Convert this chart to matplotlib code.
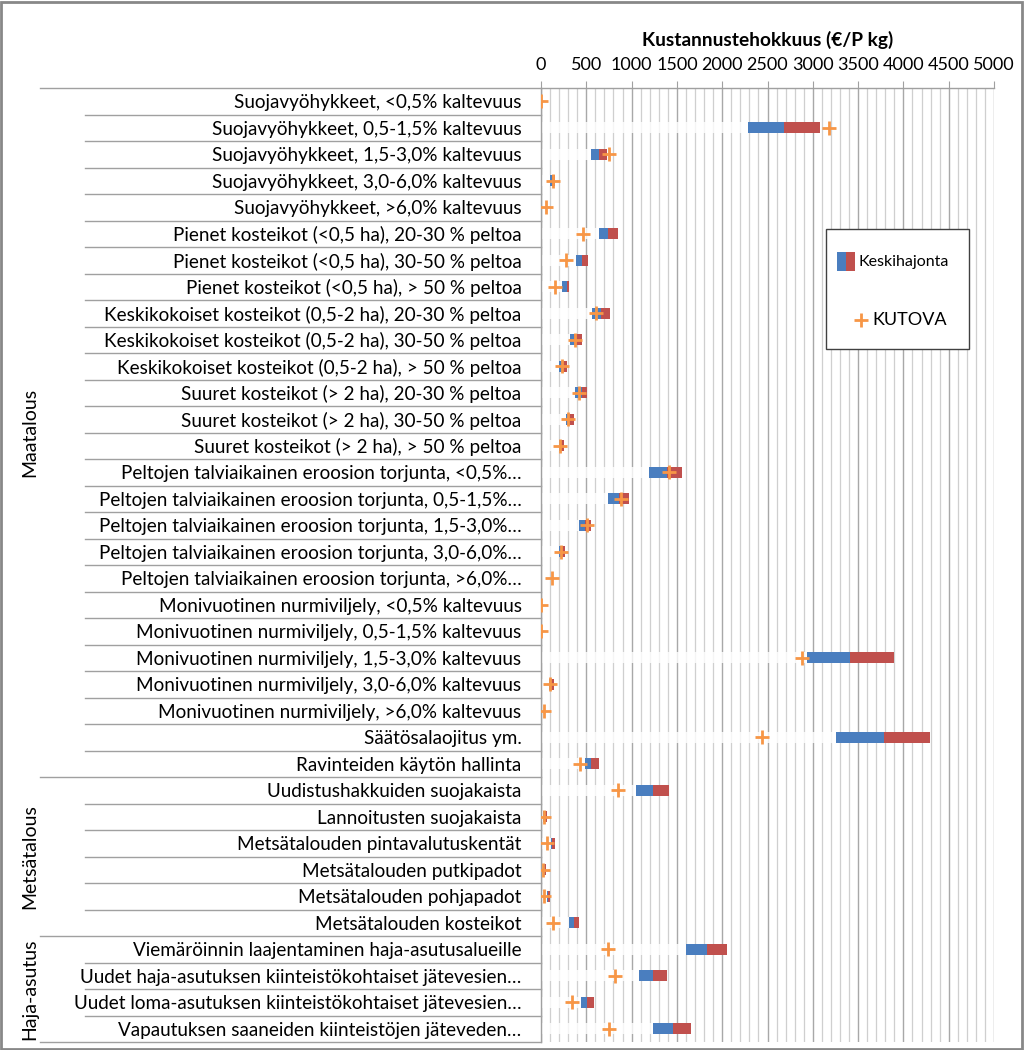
import matplotlib
matplotlib.use("Agg")
import matplotlib.pyplot as plt
import numpy as np
from matplotlib.patches import Rectangle
from matplotlib.lines import Line2D
from matplotlib.ticker import MultipleLocator
import matplotlib.transforms as mtransforms

plt.rcParams['font.family'] = ['Lato', 'DejaVu Sans']

categories = [
    "Suojavyöhykkeet, <0,5% kaltevuus",
    "Suojavyöhykkeet, 0,5-1,5% kaltevuus",
    "Suojavyöhykkeet, 1,5-3,0% kaltevuus",
    "Suojavyöhykkeet, 3,0-6,0% kaltevuus",
    "Suojavyöhykkeet, >6,0% kaltevuus",
    "Pienet kosteikot (<0,5 ha), 20-30 % peltoa",
    "Pienet kosteikot (<0,5 ha), 30-50 % peltoa",
    "Pienet kosteikot (<0,5 ha), > 50 % peltoa",
    "Keskikokoiset kosteikot (0,5-2 ha), 20-30 % peltoa",
    "Keskikokoiset kosteikot (0,5-2 ha), 30-50 % peltoa",
    "Keskikokoiset kosteikot (0,5-2 ha), > 50 % peltoa",
    "Suuret kosteikot (> 2 ha), 20-30 % peltoa",
    "Suuret kosteikot (> 2 ha), 30-50 % peltoa",
    "Suuret kosteikot (> 2 ha), > 50 % peltoa",
    "Peltojen talviaikainen eroosion torjunta, <0,5%…",
    "Peltojen talviaikainen eroosion torjunta, 0,5-1,5%…",
    "Peltojen talviaikainen eroosion torjunta, 1,5-3,0%…",
    "Peltojen talviaikainen eroosion torjunta, 3,0-6,0%…",
    "Peltojen talviaikainen eroosion torjunta, >6,0%…",
    "Monivuotinen nurmiviljely, <0,5% kaltevuus",
    "Monivuotinen nurmiviljely, 0,5-1,5% kaltevuus",
    "Monivuotinen nurmiviljely, 1,5-3,0% kaltevuus",
    "Monivuotinen nurmiviljely, 3,0-6,0% kaltevuus",
    "Monivuotinen nurmiviljely, >6,0% kaltevuus",
    "Säätösalaojitus ym.",
    "Ravinteiden käytön hallinta",
    "Uudistushakkuiden suojakaista",
    "Lannoitusten suojakaista",
    "Metsätalouden pintavalutuskentät",
    "Metsätalouden putkipadot",
    "Metsätalouden pohjapadot",
    "Metsätalouden kosteikot",
    "Viemäröinnin laajentaminen haja-asutusalueille",
    "Uudet haja-asutuksen kiinteistökohtaiset jätevesien…",
    "Uudet loma-asutuksen kiinteistökohtaiset jätevesien…",
    "Vapautuksen saaneiden kiinteistöjen jäteveden…",
]

# lower end of std band (start of blue), mean (blue/red boundary), upper end
band_low = [0, 2283, 556, 103, 0, 637, 383, 228, 559, 320, 202, 376, 272, 195,
            1197, 740, 423, 195, 0, 0, 0, 2935, 92, 0, 3252, 486,
            1053, 25, 106, 25, 62, 313, 1605, 1086, 442, 1241]
band_mid = [0, 2677, 644, 121, 0, 744, 449, 283, 663, 368, 228, 449, 305, 213,
            1388, 865, 490, 221, 0, 0, 0, 3414, 110, 0, 3782, 556,
            1241, 45, 125, 40, 80, 368, 1830, 1241, 504, 1455]
band_high = [0, 3076, 729, 155, 0, 854, 515, 305, 762, 449, 283, 512, 365, 257,
             1554, 972, 556, 261, 0, 0, 0, 3896, 147, 0, 4291, 637,
             1418, 62, 150, 55, 99, 423, 2051, 1396, 582, 1658]
kutova = [5, 3175, 755, 136, 55, 460, 276, 158, 608, 376, 228, 423, 298, 210,
          1418, 884, 504, 224, 121, 2, 2, 2880, 103, 36, 2434, 431,
          854, 36, 62, 25, 29, 136, 740, 814, 346, 751]

groups = ["Maatalous", "Metsätalous", "Haja-asutus"]
group_sizes = [26, 6, 4]

x_ticks = [0, 500, 1000, 1500, 2000, 2500, 3000, 3500, 4000, 4500, 5000]
legend_labels = ["Keskihajonta", "KUTOVA"]

BLUE = "#4A7EBF"
RED = "#C0504D"
ORANGE = "#F79646"

W, H = 1024, 1050
fig = plt.figure(figsize=(W/100, H/100), dpi=100)
ax = fig.add_axes([541/W, 1-1042/H, (994-541)/W, (1042-88)/H])

n = len(categories)
y = np.arange(n)
low = np.array(band_low, float)
mid = np.array(band_mid, float)
high = np.array(band_high, float)

h = 0.4
ax.barh(y, low, height=h, color="white", alpha=0.8, zorder=2)
ax.barh(y, mid - low, left=low, height=h, color=BLUE, zorder=3)
ax.barh(y, high - mid, left=mid, height=h, color=RED, zorder=3)
ax.plot(kutova, y, linestyle="none", marker="+", markersize=10, mew=2,
        color=ORANGE, zorder=4)

ax.set_xlim(0, 5000)
ax.set_ylim(n - 0.5, -0.5)
ax.xaxis.tick_top()
ax.xaxis.set_label_position("top")
ax.set_xticks(x_ticks)
ax.xaxis.set_minor_locator(MultipleLocator(100))
ax.tick_params(axis="x", which="major", length=5, width=0.8, color="#A0A0A0",
               labelsize=13, pad=6)
ax.tick_params(axis="x", which="minor", length=0)
ax.set_xlabel("Kustannustehokkuus (€/P kg)", fontsize=13.8, fontweight="bold",
              labelpad=8)
ax.grid(axis="x", which="minor", color="#CFCFCF", lw=0.9, zorder=0)
ax.grid(axis="x", which="major", color="#A8A8A8", lw=1.0, zorder=0)
ax.set_axisbelow(True)

ax.set_yticks(y)
ax.set_yticklabels(categories, fontsize=13.6)
ax.tick_params(axis="y", length=0, pad=14)

for s in ["bottom", "right"]:
    ax.spines[s].set_visible(False)
for s in ["top", "left"]:
    ax.spines[s].set_color("#A0A0A0")
    ax.spines[s].set_linewidth(1.0)

# category separators and group separators in label area
trans = mtransforms.blended_transform_factory(fig.transFigure, ax.transData)
boundaries_group = np.concatenate([[0], np.cumsum(group_sizes)]) - 0.5
for b in np.arange(n + 1) - 0.5:
    x0 = 40/W if b in boundaries_group else 85/W
    ax.add_line(Line2D([x0, 541/W], [b, b], transform=trans, color="#A0A0A0",
                       lw=1.0, clip_on=False))

for g, lo, hi in zip(groups, boundaries_group[:-1], boundaries_group[1:]):
    ax.text(30/W, (lo + hi) / 2, g, transform=trans, rotation=90,
            ha="center", va="center", fontsize=14)

# legend box (drawn in figure pixel coordinates)
def fx(px):
    return px / W

def fy(py):
    return 1 - py / H

fig.patches.append(Rectangle((fx(826), fy(349)), fx(969) - fx(826), fy(229) - fy(349),
                             transform=fig.transFigure, facecolor="white",
                             edgecolor="#404040", lw=1.0, zorder=10))
fig.patches.append(Rectangle((fx(836.5), fy(271)), fx(846) - fx(836.5), fy(252) - fy(271),
                             transform=fig.transFigure, facecolor=BLUE,
                             edgecolor="none", zorder=11))
fig.patches.append(Rectangle((fx(846), fy(271)), fx(855) - fx(846), fy(252) - fy(271),
                             transform=fig.transFigure, facecolor=RED,
                             edgecolor="none", zorder=11))
fig.text(fx(858), fy(262), legend_labels[0], fontsize=11.5, ha="left", va="center",
         zorder=12)
fig.add_artist(Line2D([fx(861)], [fy(320)], transform=fig.transFigure, marker="+",
                      markersize=10, mew=2, color=ORANGE, linestyle="none",
                      zorder=12))
fig.text(fx(872), fy(320), legend_labels[1], fontsize=13, ha="left", va="center",
         zorder=12)

fig.patches.append(Rectangle((0.001, 0.001), 0.997, 0.997, transform=fig.transFigure,
                             fill=False, edgecolor="#888888", lw=2))

fig.savefig("out.png", dpi=100, facecolor="white")
